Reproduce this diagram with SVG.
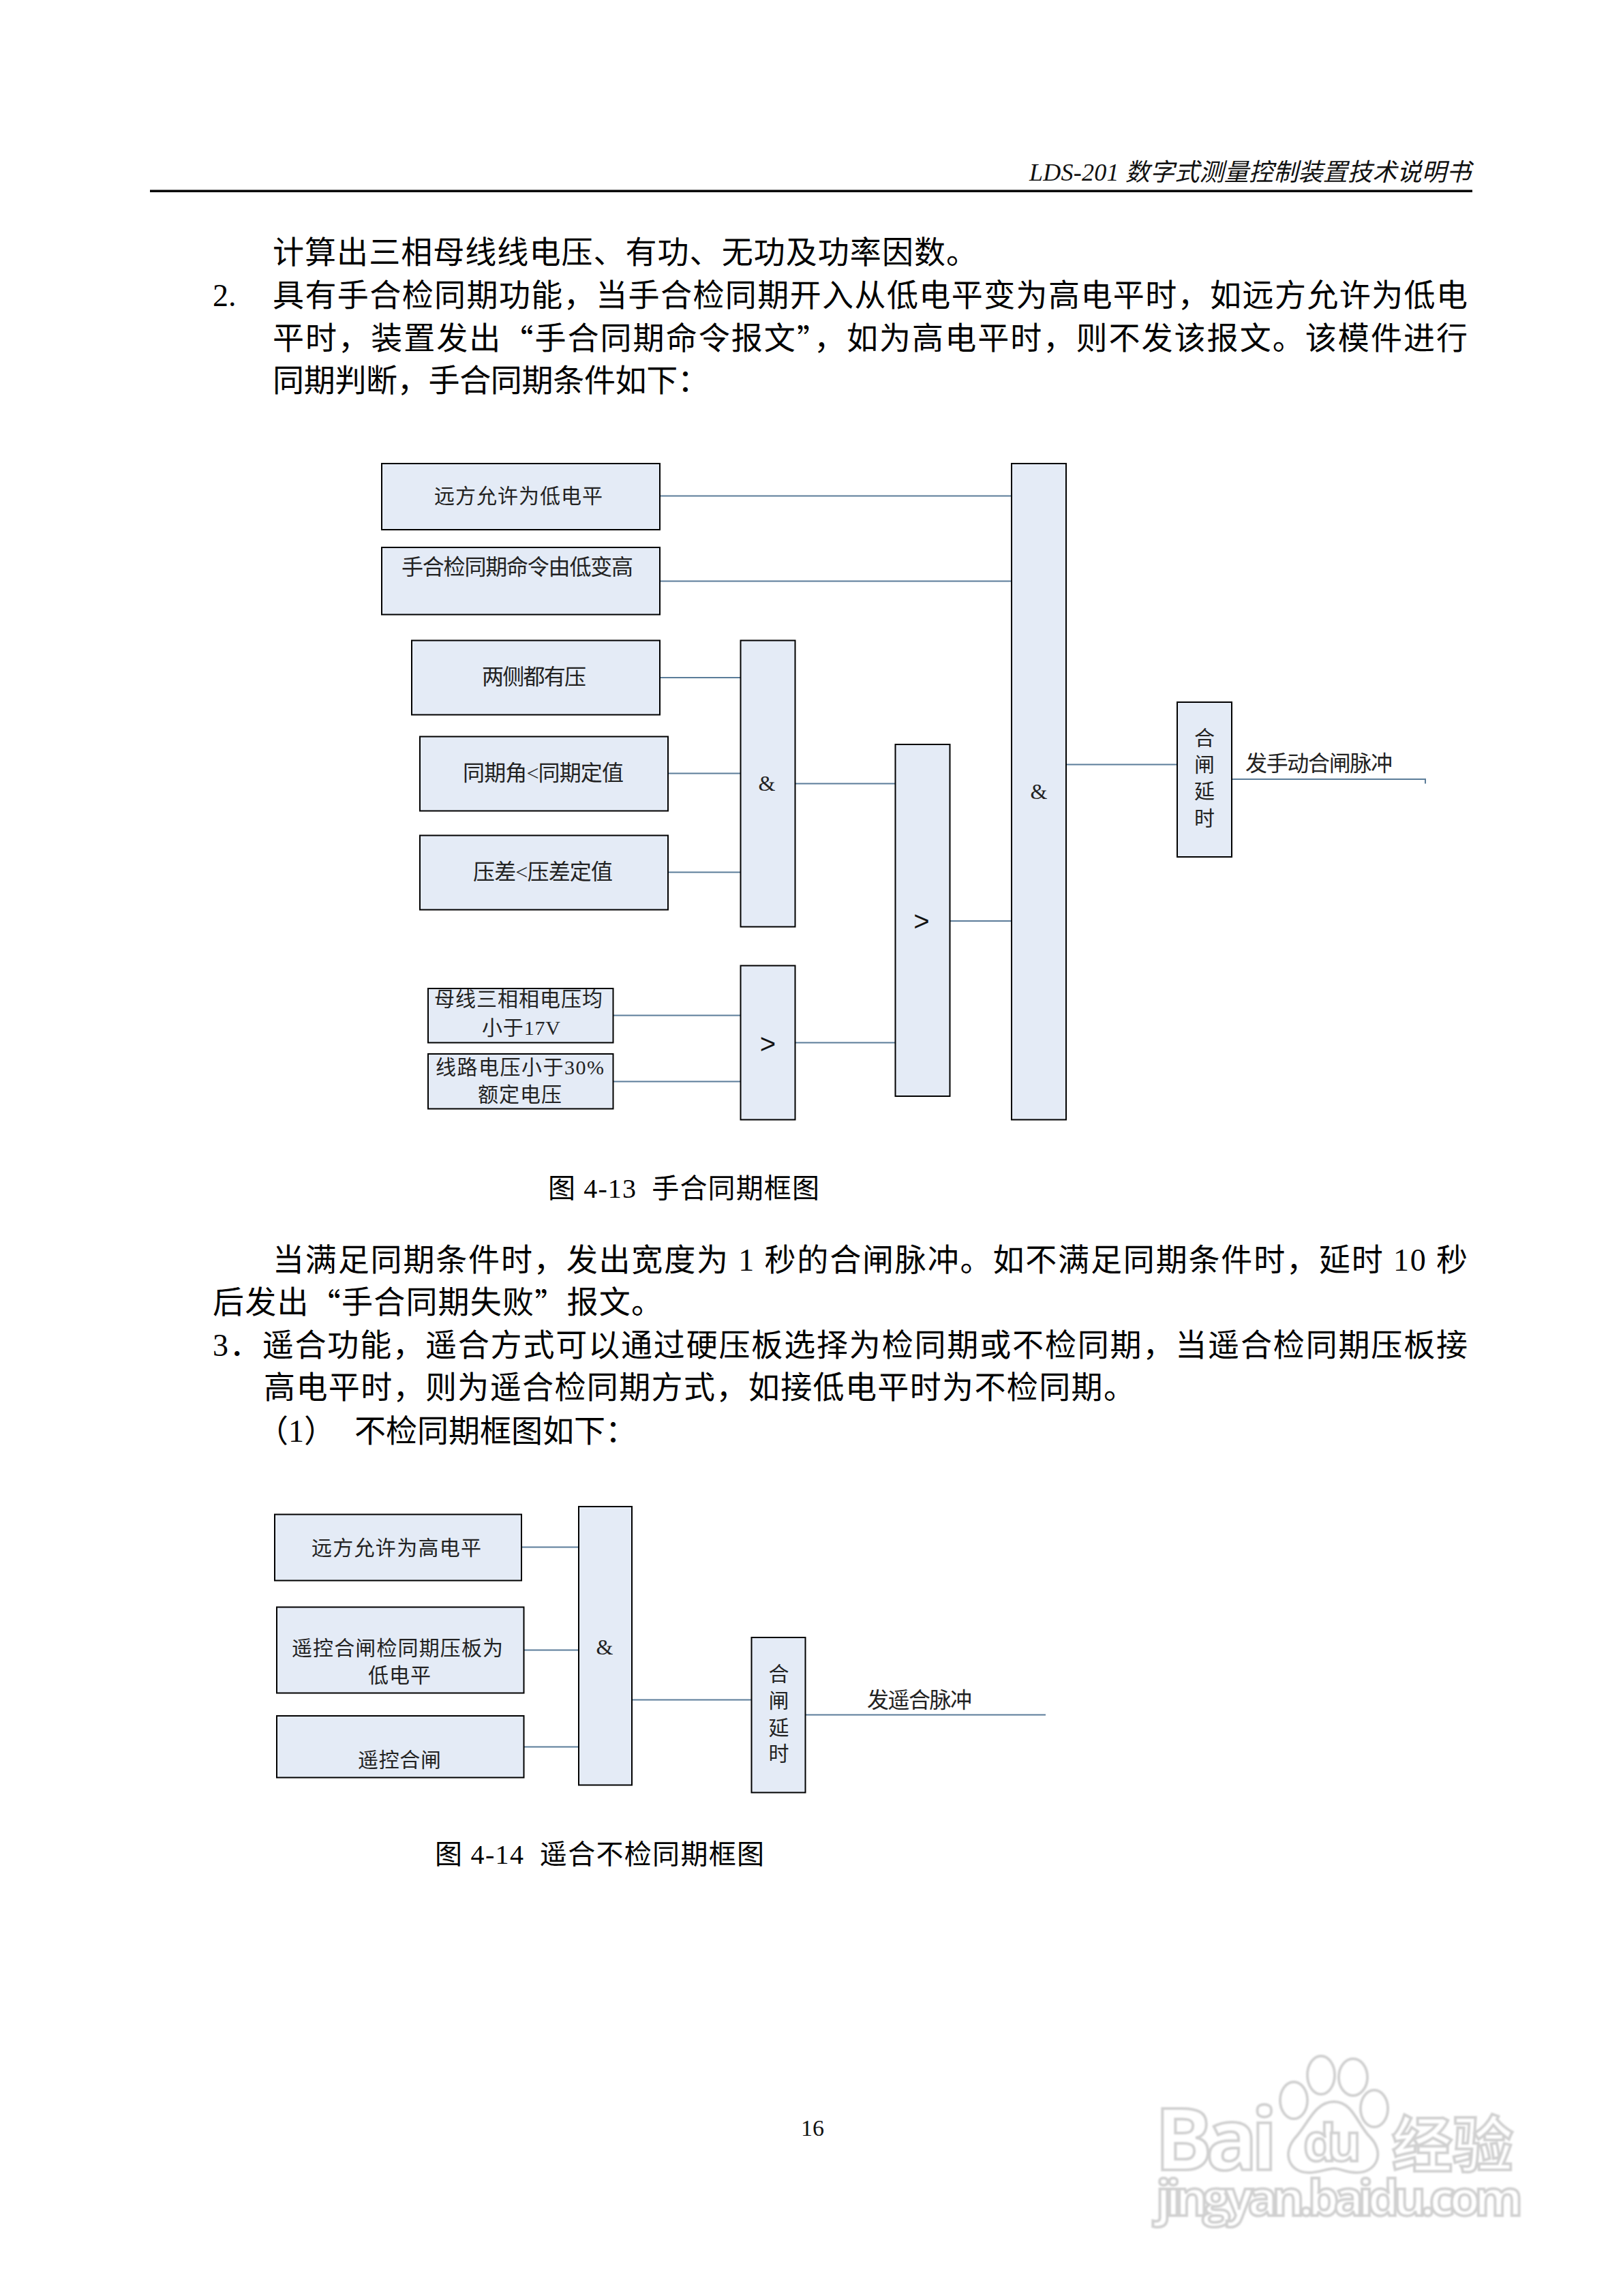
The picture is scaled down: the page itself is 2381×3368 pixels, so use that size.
<svg xmlns="http://www.w3.org/2000/svg" width="2381" height="3368" viewBox="0 0 2381 3368">
<style>
text{font-family:"Liberation Serif","Noto Sans CJK SC",serif;fill:#111;dominant-baseline:central;white-space:pre}
.b{font-size:46px;fill:#000}
.l{font-size:30px;fill:#222}
.s{font-size:32px;fill:#222}
.c{font-size:40px;fill:#000}
.m{text-anchor:middle}
.q{font-family:"Noto Sans CJK SC",sans-serif}
.g{font-size:40px;font-family:"Liberation Sans",sans-serif}
.n{fill:#e4ebf6;stroke:#000;stroke-width:2}
.e{stroke:#5b7c99;stroke-width:2;fill:none}
.w{fill:#fff;stroke:#d0d0d0;stroke-width:4}
.wt{font-family:"Open Sans","Liberation Sans",sans-serif;font-weight:700;fill:#fff;stroke:#d0d0d0;stroke-width:4;dominant-baseline:alphabetic}
</style>
<defs><filter id="soft" x="-5%" y="-5%" width="110%" height="110%"><feGaussianBlur stdDeviation="1.2"/></filter></defs>
<rect width="2381" height="3368" fill="#fff"/>
<g id="page-text">
<text x="1510" y="253" font-size="36" font-style="italic" textLength="648">LDS-201 数字式测量控制装置技术说明书</text>
<rect x="220" y="278.5" width="1940" height="3.5" fill="#000"/>
<text class="b" x="400" y="370" textLength="1034">计算出三相母线线电压、有功、无功及功率因数。</text>
<text class="b" x="312" y="433" font-size="42">2.</text>
<text class="b" x="400" y="433" textLength="1753">具有手合检同期功能，当手合检同期开入从低电平变为高电平时，如远方允许为低电</text>
<text class="b" x="400" y="496" textLength="1753">平时，装置发出<tspan class="q">“</tspan>手合同期命令报文<tspan class="q">”</tspan>，如为高电平时，则不发该报文。该模件进行</text>
<text class="b" x="400" y="558" textLength="640">同期判断，手合同期条件如下：</text>
<text class="b" x="400" y="1848" textLength="1753">当满足同期条件时，发出宽度为 1 秒的合闸脉冲。如不满足同期条件时，延时 10 秒</text>
<text class="b" x="312" y="1910" textLength="660">后发出<tspan class="q">“</tspan>手合同期失败<tspan class="q">”</tspan>报文。</text>
<text class="b" x="312" y="1973" textLength="1841">3．遥合功能，遥合方式可以通过硬压板选择为检同期或不检同期，当遥合检同期压板接</text>
<text class="b" x="387" y="2035" textLength="1278">高电平时，则为遥合检同期方式，如接低电平时为不检同期。</text>
<text class="b" x="377" y="2099">（1）<tspan x="520">不检同期框图如下：</tspan></text>
<text class="c" x="804" y="1743" textLength="398">图 4-13  手合同期框图</text>
<text class="c" x="638" y="2720" textLength="483">图 4-14  遥合不检同期框图</text>
<text x="1192" y="3121" font-size="34" class="m">16</text>
</g>
<g id="connectors">
<path class="e" d="M968 727.5H1484M968 852.5H1484M968 994H1086.5M980 1134.5H1086.5M980 1279.5H1086.5M1166 1149.5H1313.5M899.5 1489.5H1086.5M899.5 1586.5H1086.5M1166 1529.5H1313.5M1393.5 1351H1484M1563.5 1121.5H1727M1806.5 1143H2091V1149.5"/>
<path class="e" d="M765 2269.5H849M768.5 2420.5H849M768.5 2562.5H849M927 2493.5H1102.5M1181.5 2515.5H1534"/>
</g>
<g id="n1"><rect class="n" x="560" y="680" width="408" height="97"/><text class="l" x="637" y="727" textLength="247">远方允许为低电平</text></g>
<g id="n2"><rect class="n" x="560" y="803" width="408" height="98.5"/><text class="s" x="589" y="832" textLength="340">手合检同期命令由低变高</text></g>
<g id="n3"><rect class="n" x="604" y="939.5" width="364" height="109"/><text class="s" x="707" y="993" textLength="153">两侧都有压</text></g>
<g id="n4"><rect class="n" x="616" y="1080.5" width="364" height="109"/><text class="s" x="679" y="1134" textLength="236">同期角&lt;同期定值</text></g>
<g id="n5"><rect class="n" x="616" y="1225.5" width="364" height="109"/><text class="s" x="694" y="1279" textLength="205">压差&lt;压差定值</text></g>
<g id="n6"><rect class="n" x="628" y="1450" width="271.5" height="79.5"/><text class="l" x="637" y="1465" textLength="247">母线三相相电压均</text><text class="l" x="707" y="1507" textLength="115">小于17V</text></g>
<g id="n7"><rect class="n" x="628" y="1546" width="271.5" height="80.5"/><text class="l" x="639" y="1565" textLength="247">线路电压小于30%</text><text class="l" x="701" y="1605" textLength="123">额定电压</text></g>
<g id="and1"><rect class="n" x="1086.5" y="939.5" width="80" height="420"/><text class="s m" x="1125" y="1149">&amp;</text></g>
<g id="or1"><rect class="n" x="1086.5" y="1416.5" width="80" height="226"/><text class="g m" x="1126.5" y="1531">&gt;</text></g>
<g id="or2"><rect class="n" x="1313.5" y="1092" width="80" height="516"/><text class="g m" x="1352" y="1351">&gt;</text></g>
<g id="and2"><rect class="n" x="1484" y="680" width="80" height="962.5"/><text class="s m" x="1524" y="1161">&amp;</text></g>
<g id="delay1"><rect class="n" x="1727" y="1030" width="80" height="227"/><text class="l m" x="1767" y="1082">合</text><text class="l m" x="1767" y="1121">闸</text><text class="l m" x="1767" y="1160">延</text><text class="l m" x="1767" y="1200">时</text></g>
<text class="s" x="1827" y="1120" textLength="216">发手动合闸脉冲</text>
<g id="m1"><rect class="n" x="403" y="2221.5" width="362" height="97"/><text class="l" x="457" y="2270" textLength="249">远方允许为高电平</text></g>
<g id="m2"><rect class="n" x="406" y="2357.5" width="362.5" height="126"/><text class="l" x="428" y="2417" textLength="310">遥控合闸检同期压板为</text><text class="l" x="540" y="2457" textLength="92">低电平</text></g>
<g id="m3"><rect class="n" x="406" y="2517" width="362.5" height="90.5"/><text class="l" x="525" y="2581" textLength="122">遥控合闸</text></g>
<g id="and3"><rect class="n" x="849" y="2210" width="78" height="408.5"/><text class="s m" x="887" y="2416">&amp;</text></g>
<g id="delay2"><rect class="n" x="1102.5" y="2402" width="79" height="227.5"/><text class="l m" x="1142.5" y="2455">合</text><text class="l m" x="1142.5" y="2494">闸</text><text class="l m" x="1142.5" y="2534">延</text><text class="l m" x="1142.5" y="2572">时</text></g>
<text class="s" x="1272" y="2494" textLength="154">发遥合脉冲</text>
<g id="watermark" filter="url(#soft)">
<text class="wt" x="1694" y="3183" font-size="126" textLength="180">Bai</text>
<path class="w" d="M1957 3083C1985 3083 1992 3118 2010 3135C2032 3158 2020 3187 1990 3187C1972 3187 1968 3181 1957 3181C1946 3181 1936 3187 1920 3187C1892 3187 1880 3160 1900 3136C1918 3118 1928 3083 1957 3083Z"/>
<ellipse class="w" cx="1898" cy="3081" rx="20" ry="27"/>
<ellipse class="w" cx="1938" cy="3044" rx="20" ry="28"/>
<ellipse class="w" cx="1985" cy="3047" rx="21" ry="27"/>
<ellipse class="w" cx="2016" cy="3093" rx="20" ry="27"/>
<text class="wt" x="1912" y="3170" font-size="76" textLength="85">du</text>
<text class="wt" x="2042" y="3178" font-size="89" textLength="178" style="font-family:'Noto Sans CJK SC',sans-serif">经验</text>
<text class="wt" x="1696" y="3250" font-size="72" textLength="538">jingyan.baidu.com</text>
</g>
</svg>
